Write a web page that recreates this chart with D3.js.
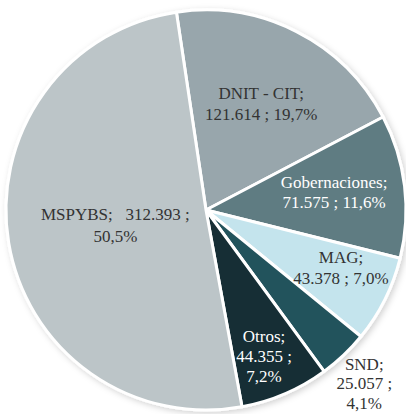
<!DOCTYPE html>
<html><head><meta charset="utf-8">
<script src="https://cdn.jsdelivr.net/npm/d3@7"></script>
<style>html,body{margin:0;padding:0;background:#fff;overflow:hidden}</style>
</head><body><div id="chart"></div>
<script>
const categories = ["DNIT - CIT", "Gobernaciones", "MAG", "SND", "Otros", "MSPYBS"];
const values = [121614, 71575, 43378, 25057, 44355, 312393];
const valueLabels = ["121.614", "71.575", "43.378", "25.057", "44.355", "312.393"];
const percentLabels = ["19,7%", "11,6%", "7,0%", "4,1%", "7,2%", "50,5%"];
const colors = ["#98a6ac", "#5f7b82", "#c4e4ed", "#24525c", "#142e35", "#bcc5c8"];
const textColors = ["#333333", "#ffffff", "#333333", "#333333", "#ffffff", "#333333"];

// label layout (line builders, radial factor, extra offset)
const labelLines = [
  i => [categories[i] + ";", valueLabels[i] + " ; " + percentLabels[i]],
  i => [categories[i] + ";", valueLabels[i] + " ; " + percentLabels[i]],
  i => [categories[i] + ";", valueLabels[i] + " ; " + percentLabels[i]],
  i => [categories[i] + ";", valueLabels[i] + " ;", percentLabels[i]],
  i => [categories[i] + ";", valueLabels[i] + " ;", percentLabels[i]],
  i => [categories[i] + ";   " + valueLabels[i] + " ;", percentLabels[i]]
];
const labelRadius = [0.61, 0.645, 0.71, 1.15, 0.76, 0.5];
const labelShift = [[0,3],[0,-2],[8,-5.5],[0,7],[-2,7],[8,-1]];
const labelLineH = [21, 20, 21, 19.5, 20, 22];

const W = 406, H = 414;
const cx = 206, cy = 210, R = 200;
const startDeg = -8.5;

const svg = d3.select("#chart").append("svg").attr("width", W).attr("height", H);
const defs = svg.append("defs");
const f = defs.append("filter").attr("id","sh").attr("x","-10%").attr("y","-10%").attr("width","120%").attr("height","120%");
f.append("feDropShadow").attr("dx",2).attr("dy",2).attr("stdDeviation",3).attr("flood-color","#000").attr("flood-opacity",0.18);

const g = svg.append("g").attr("transform", `translate(${cx},${cy})`);
const start = startDeg * Math.PI / 180;
const pie = d3.pie().sort(null).value(d => d.v).startAngle(start).endAngle(start + 2*Math.PI);
const data = categories.map((c,i) => ({c, v: values[i], i}));
const arcs = pie(data);
const arc = d3.arc().innerRadius(0).outerRadius(R);

g.append("g").attr("filter","url(#sh)").selectAll("path").data(arcs).join("path")
  .attr("d", arc)
  .attr("fill", d => colors[d.data.i])
  .attr("stroke", "#fff").attr("stroke-width", 3).attr("stroke-linejoin","round");

arcs.forEach(d => {
  const i = d.data.i;
  const a = (d.startAngle + d.endAngle) / 2;
  const r = R * labelRadius[i];
  const x = Math.sin(a) * r + labelShift[i][0];
  const y = -Math.cos(a) * r + labelShift[i][1];
  const lines = labelLines[i](i);
  const lh = labelLineH[i];
  const t = g.append("text")
    .attr("font-family", "'Liberation Serif', 'Times New Roman', serif")
    .attr("font-size", 17)
    .attr("fill", textColors[i])
    .attr("text-anchor", "middle")
    .attr("xml:space", "preserve")
    .style("white-space", "pre");
  const y0 = y - (lines.length - 1) * lh / 2 + 5.5;
  lines.forEach((ln, k) => {
    t.append("tspan").attr("x", x).attr("y", y0 + k*lh).text(ln);
  });
});
</script></body></html>
